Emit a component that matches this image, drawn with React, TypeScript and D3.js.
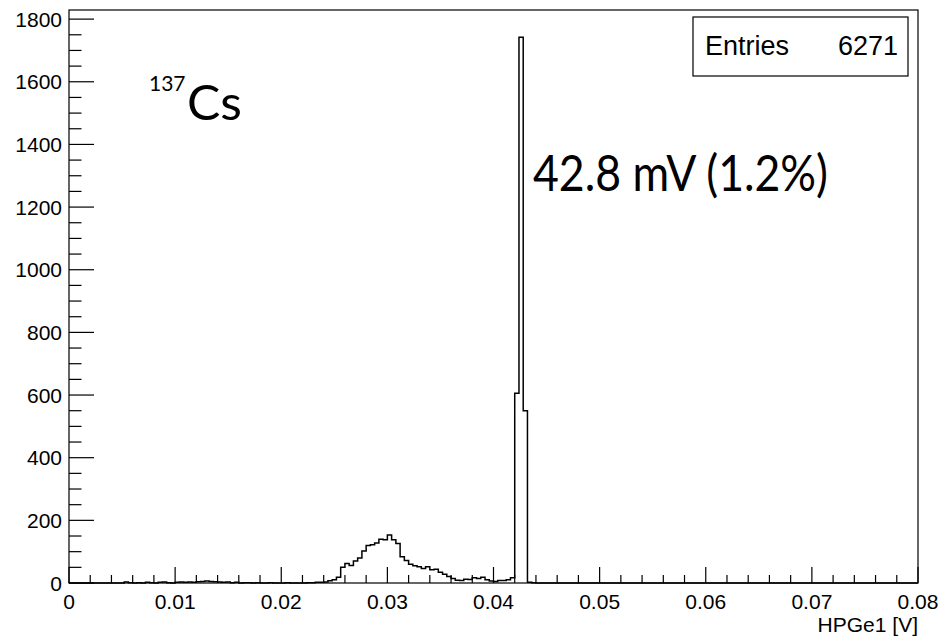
import React from "react";
import * as d3 from "d3";

// Histogram definition: 200 bins over [0, 0.08] V
const xMin = 0;
const xMax = 0.08;
const nBins = 200;

// Counts per bin
const lowCounts = [
  0, 0, 0, 0, 0, 0, 0, 0, 0, 0, 0, 0, 0, 3, 1, 0, 1, 0, 2, 1,
  0, 2, 3, 1, 0, 2, 3, 2, 3, 2, 4, 5, 6, 5, 4, 3, 2, 3, 1, 2,
  0, 1, 1, 0, 1, 0, 0, 1, 0, 0, 0, 1, 0, 0, 0, 0, 1, 1, 2, 2,
];
const bumpCounts = [
  3, 7, 10, 18, 50, 62, 56, 70, 80, 102, 120, 122, 128, 140, 138, 153, 138, 126, 84, 72,
];
const tailCounts = [
  60, 55, 52, 46, 52, 42, 44, 34, 28, 21, 14, 9, 8, 12, 11, 17, 14, 18, 10, 6, 5, 8, 8, 10, 17,
];
const peakCounts = [606, 1742, 550, 2, 1];
const highCounts = [
  0, 0, 0, 0, 0, 0, 0, 0, 0, 0, 0, 0, 0, 0, 0, 0, 0, 0, 0, 0,
  0, 0, 0, 0, 0, 0, 0, 0, 0, 0, 0, 0, 0, 0, 0, 0, 0, 0, 0, 0,
  0, 0, 0, 0, 0, 0, 0, 0, 0, 0, 0, 0, 0, 0, 0, 0, 0, 0, 0, 0,
  0, 0, 0, 0, 0, 0, 0, 0, 0, 0, 0, 0, 0, 0, 0, 0, 0, 0, 0, 0,
  0, 0, 0, 0, 0, 0, 0, 0, 0, 0,
];

const xTickValues = [0, 0.01, 0.02, 0.03, 0.04, 0.05, 0.06, 0.07, 0.08];
const xTickLabels = ["0", "0.01", "0.02", "0.03", "0.04", "0.05", "0.06", "0.07", "0.08"];
const yTickValues = [0, 200, 400, 600, 800, 1000, 1200, 1400, 1600, 1800];
const entries = 6271;

export default function App() {
  const W = 945;
  const H = 641;
  const L = 69;
  const R = 918;
  const T = 10;
  const B = 583;

  const counts = [...lowCounts, ...bumpCounts, ...tailCounts, ...peakCounts, ...highCounts];
  const binW = (xMax - xMin) / nBins;
  const maxC = d3.max(counts) as number;
  const yMax = maxC * 1.05;

  const x = d3.scaleLinear().domain([xMin, xMax]).range([L, R]);
  const y = d3.scaleLinear().domain([0, yMax]).range([B, T]);

  const pts: [number, number][] = counts.map((c, i) => [xMin + i * binW, c]);
  pts.push([xMax, counts[counts.length - 1]]);
  const line = d3
    .line<[number, number]>()
    .x((d) => x(d[0]))
    .y((d) => y(d[1]))
    .curve(d3.curveStepAfter);

  const xMinor = d3.range(0, 41).map((i) => i * 0.002).filter((v) => !xTickValues.some((t) => Math.abs(t - v) < 1e-9));
  const yMinor = d3.range(0, 37).map((i) => i * 50).filter((v) => v % 200 !== 0 && v <= yMax);

  const rootFont = "'Liberation Sans', Arial, Helvetica, sans-serif";
  const annFont = "Lato, 'Open Sans', sans-serif";

  return (
    <svg width={W} height={H} style={{ position: "absolute", left: 0, top: 0, background: "#fff" }}>
      <rect x={0} y={0} width={W} height={H} fill="#fff" />
      {/* histogram */}
      <path d={line(pts) || ""} fill="none" stroke="#000" strokeWidth={1.5} />
      {/* frame */}
      <rect x={L} y={T} width={R - L} height={B - T} fill="none" stroke="#000" strokeWidth={1.2} />
      {/* x ticks */}
      {xTickValues.map((v) => (
        <line key={"xm" + v} x1={x(v)} x2={x(v)} y1={B} y2={B - 16} stroke="#000" strokeWidth={1.2} />
      ))}
      {xMinor.map((v) => (
        <line key={"xn" + v} x1={x(v)} x2={x(v)} y1={B} y2={B - 8} stroke="#000" strokeWidth={1.2} />
      ))}
      {xTickValues.map((v, i) => (
        <text key={"xl" + v} x={x(v)} y={609} textAnchor="middle" fontFamily={rootFont} fontSize={21} fill="#000">
          {xTickLabels[i]}
        </text>
      ))}
      {/* y ticks */}
      {yTickValues.map((v) => (
        <line key={"ym" + v} x1={L} x2={L + 25} y1={y(v)} y2={y(v)} stroke="#000" strokeWidth={1.2} />
      ))}
      {yMinor.map((v) => (
        <line key={"yn" + v} x1={L} x2={L + 12.5} y1={y(v)} y2={y(v)} stroke="#000" strokeWidth={1.2} />
      ))}
      {yTickValues.map((v) => (
        <text key={"yl" + v} x={62} y={y(v) + 7.5} textAnchor="end" fontFamily={rootFont} fontSize={21} fill="#000">
          {String(v)}
        </text>
      ))}
      {/* axis title */}
      <text x={R} y={632} textAnchor="end" fontFamily={rootFont} fontSize={21} fill="#000">
        HPGe1 [V]
      </text>
      {/* stats box */}
      <rect x={693} y={17} width={215} height={59} fill="#fff" stroke="#000" strokeWidth={1.2} />
      <text x={705} y={55} fontFamily={rootFont} fontSize={27} fill="#000">
        Entries
      </text>
      <text x={898} y={55} textAnchor="end" fontFamily={rootFont} fontSize={27} fill="#000">
        {String(entries)}
      </text>
      {/* annotations */}
      <text x={149} y={91} fontFamily={annFont} fontSize={21} fill="#000">
        137
      </text>
      <text x={187} y={120} fontFamily={annFont} fontSize={48} fill="#000" textLength={55} lengthAdjust="spacingAndGlyphs">
        Cs
      </text>
      <text x={533} y={191} fontFamily={annFont} fontSize={50} fill="#000" textLength={295} lengthAdjust="spacingAndGlyphs">
        42.8 mV (1.2%)
      </text>
    </svg>
  );
}
